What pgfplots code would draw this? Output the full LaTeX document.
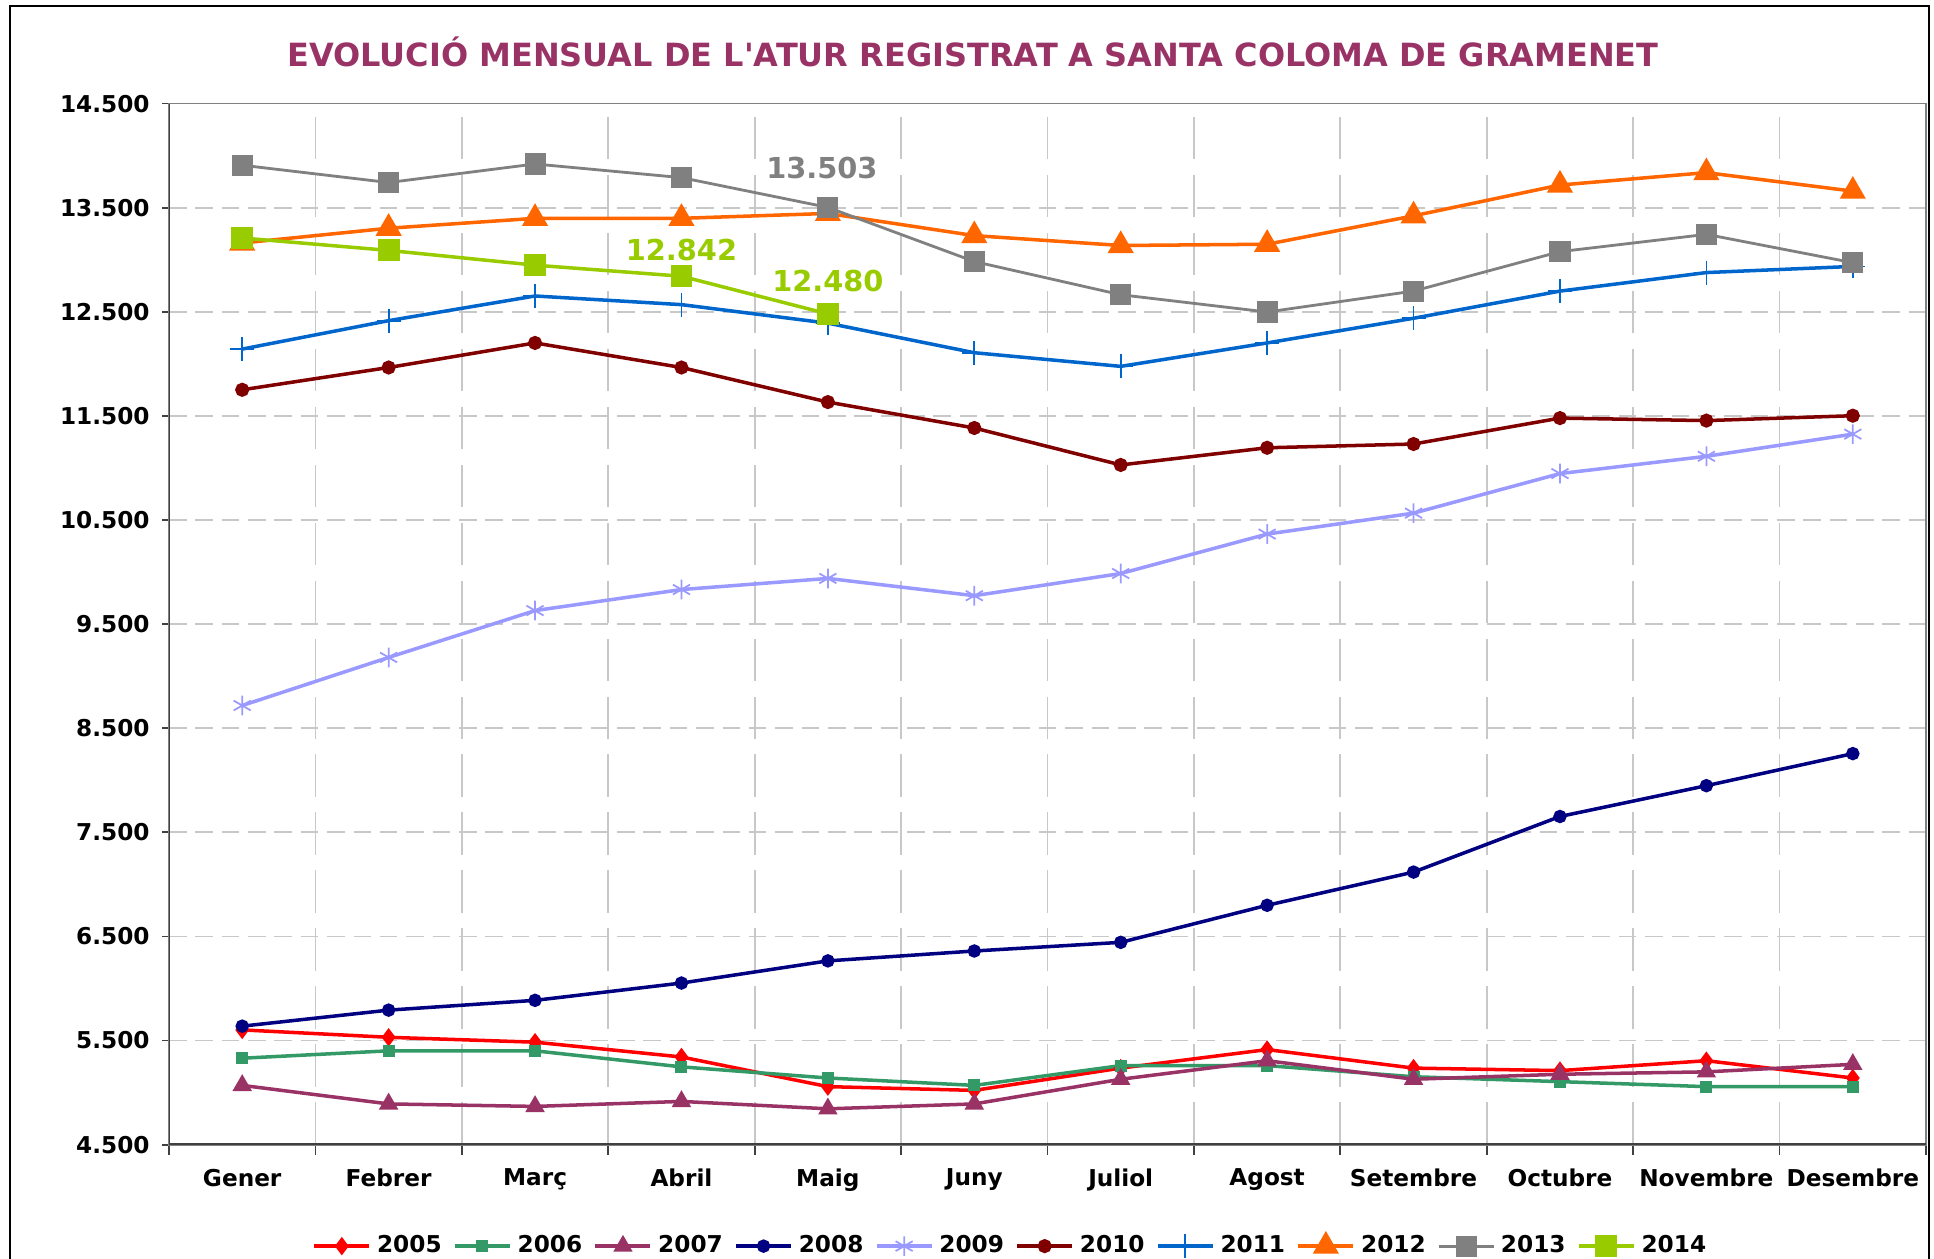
\documentclass[border=0pt]{standalone}
\usepackage{fontspec}
\setmainfont{DejaVu Sans}[Ligatures=TeXOff]
\usepackage{pgfplots}
\pgfplotsset{compat=1.18}
\definecolor{titlecol}{RGB}{153,51,102}
\definecolor{c2005}{RGB}{255,0,0}
\definecolor{c2006}{RGB}{51,153,102}
\definecolor{c2007}{RGB}{153,51,102}
\definecolor{c2008}{RGB}{0,0,128}
\definecolor{c2009}{RGB}{153,153,255}
\definecolor{c2010}{RGB}{128,0,0}
\definecolor{c2011}{RGB}{0,102,204}
\definecolor{c2012}{RGB}{255,102,0}
\definecolor{c2013}{RGB}{128,128,128}
\definecolor{c2014}{RGB}{153,204,0}
\definecolor{gridcol}{RGB}{200,200,200}
\definecolor{axiscol}{RGB}{64,64,64}
\begin{document}
\begin{tikzpicture}
\useasboundingbox (0,0) rectangle (193.4mm,-125.8mm);
\draw[black, line width=0.6pt] (1.0mm,-0.6mm) rectangle (192.9mm,-130mm);
\node[anchor=base, inner sep=0pt, font=\bfseries\fontsize{9.1}{11}\selectfont, text=titlecol] at (97.3mm,-6.66mm) {EVOLUCIÓ MENSUAL DE L'ATUR REGISTRAT A SANTA COLOMA DE GRAMENET};
\begin{axis}[
  at={(16.9mm,-114.46mm)}, anchor=south west,
  scale only axis, width=175.7mm, height=104.1mm,
  xmin=-0.5, xmax=11.5, ymin=4500, ymax=14500,
  xtick={0,...,11},
  xticklabels={Gener,Febrer,Març,Abril,Maig,Juny,Juliol,Agost,Setembre,Octubre,Novembre,Desembre},
  major x tick style={draw=none},
  minor xtick={-0.5,0.5,...,11.5},
  xminorgrids,
  minor x grid style={gridcol, line width=0.5pt, dash pattern=on 12pt off 4.5pt},
  ytick={4500,5500,...,14500},
  ymajorgrids,
  major y grid style={gridcol, line width=0.5pt, dash pattern=on 5pt off 2.5pt},
  tick align=outside, tick pos=left,
  major tick length=0.7mm, minor tick length=1.0mm,
  tick style={axiscol, line width=0.5pt},
  axis line style={c2013, line width=0.5pt},
  scaled y ticks=false,
  /pgf/number format/1000 sep={.},
  /pgf/number format/assume math mode=true,
  every tick label/.append style={font=\bfseries\fontsize{6.6}{8}\selectfont},
  xticklabel style={yshift=-0.5mm},
  legend columns=-1,
  legend style={at={(0.48,-0.0975)}, anchor=center, draw=none, fill=none,
    font=\bfseries\fontsize{6.6}{8}\selectfont,
    /tikz/every even column/.append style={column sep=0.55mm},
    nodes={inner xsep=0.6mm}},
  legend image code/.code={\draw[mark repeat=2,mark phase=2] plot coordinates {(0mm,0mm)(2.75mm,0mm)(5.5mm,0mm)};},
  every axis plot/.append style={line width=1pt},
]
\addplot[c2005, mark=diamond*, mark size=1.8pt, mark options={solid}] coordinates {
(0,5602)(1,5531)(2,5484)(3,5342)(4,5057)(5,5021)(6,5235)(7,5413)(8,5235)(9,5211)(10,5306)(11,5140)};
\addlegendentry{2005}
\addplot[c2006, mark=square*, mark size=1.2pt, mark options={solid}] coordinates {
(0,5330)(1,5401)(2,5401)(3,5247)(4,5140)(5,5069)(6,5259)(7,5259)(8,5152)(9,5105)(10,5057)(11,5057)};
\addlegendentry{2006}
\addplot[c2007, mark=triangle*, mark size=2.2pt, mark options={solid}] coordinates {
(0,5069)(1,4891)(2,4867)(3,4915)(4,4844)(5,4891)(6,5128)(7,5306)(8,5128)(9,5176)(10,5199)(11,5271)};
\addlegendentry{2007}
\addplot[c2008, mark=*, mark size=1.4pt, mark options={solid}] coordinates {
(0,5638)(1,5792)(2,5886)(3,6052)(4,6265)(5,6360)(6,6443)(7,6799)(8,7118)(9,7652)(10,7948)(11,8256)};
\addlegendentry{2008}
\addplot[c2009, mark=asterisk, mark size=2.8pt, mark options={solid, line width=0.5pt}] coordinates {
(0,8718)(1,9180)(2,9630)(3,9832)(4,9939)(5,9773)(6,9986)(7,10365)(8,10566)(9,10946)(10,11112)(11,11325)};
\addlegendentry{2009}
\addplot[c2010, mark=*, mark size=1.5pt, mark options={solid}] coordinates {
(0,11751)(1,11965)(2,12201)(3,11965)(4,11633)(5,11384)(6,11029)(7,11194)(8,11230)(9,11479)(10,11455)(11,11502)};
\addlegendentry{2010}
\addplot[c2011, mark=+, mark size=3.4pt, mark options={solid, line width=0.5pt}] coordinates {
(0,12142)(1,12415)(2,12652)(3,12569)(4,12391)(5,12107)(6,11976)(7,12201)(8,12438)(9,12699)(10,12877)(11,12936)};
\addlegendentry{2011}
\addplot[c2012, mark=triangle*, mark size=3.3pt, mark options={solid}] coordinates {
(0,13161)(1,13303)(2,13398)(3,13398)(4,13445)(5,13232)(6,13137)(7,13149)(8,13422)(9,13718)(10,13837)(11,13659)};
\addlegendentry{2012}
\addplot[c2013, line width=0.8pt, mark=square*, mark size=2.6pt, mark options={solid}] coordinates {
(0,13908)(1,13742)(2,13920)(3,13789)(4,13503)(5,12983)(6,12664)(7,12498)(8,12699)(9,13078)(10,13244)(11,12972)};
\addlegendentry{2013}
\addplot[c2014, mark=square*, mark size=2.6pt, mark options={solid}] coordinates {
(0,13209)(1,13090)(2,12948)(3,12842)(4,12480)};
\addlegendentry{2014}
\addplot[draw=none, forget plot, nodes near coords, point meta=explicit symbolic,
  nodes near coords style={font=\bfseries\fontsize{8.2}{10}\selectfont, text=c2013, anchor=center, yshift=3.9mm, xshift=-0.6mm}]
  coordinates {(4,13503)[13.503]};
\addplot[draw=none, forget plot, nodes near coords, point meta=explicit symbolic,
  nodes near coords style={font=\bfseries\fontsize{8.2}{10}\selectfont, text=c2014, anchor=center, yshift=2.65mm}]
  coordinates {(3,12842)[12.842]};
\addplot[draw=none, forget plot, nodes near coords, point meta=explicit symbolic,
  nodes near coords style={font=\bfseries\fontsize{8.2}{10}\selectfont, text=c2014, anchor=center, yshift=3.3mm}]
  coordinates {(4,12480)[12.480]};
\draw[axiscol, line width=0.7pt] (rel axis cs:0,1) -- (rel axis cs:0,0) -- (rel axis cs:1,0);
\end{axis}
\end{tikzpicture}
\end{document}
